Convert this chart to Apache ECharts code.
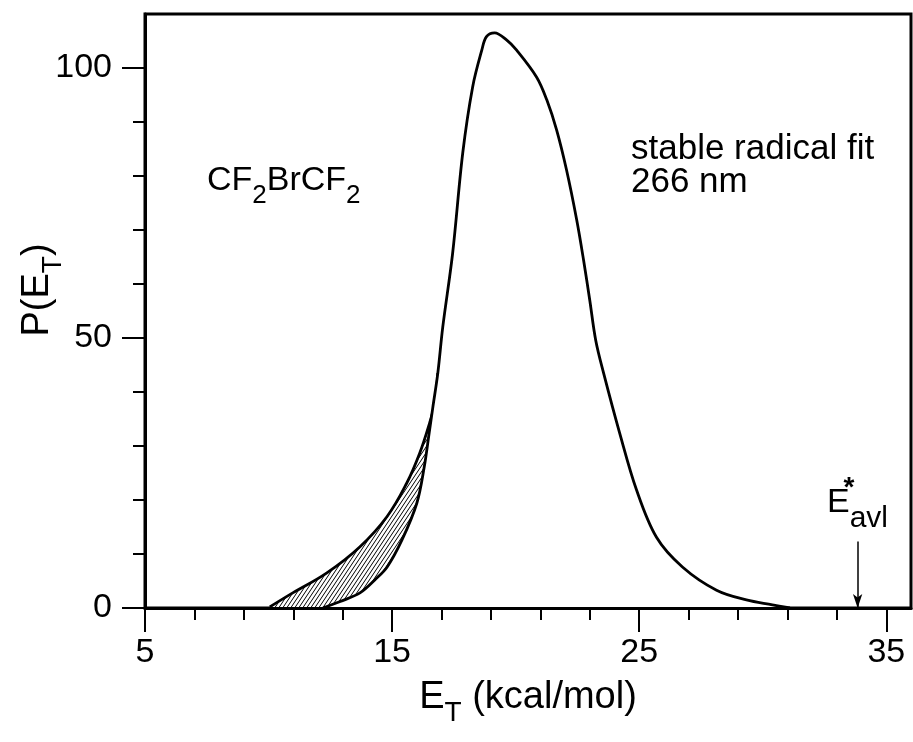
<!DOCTYPE html>
<html><head><meta charset="utf-8">
<script src="https://cdn.jsdelivr.net/npm/echarts@6/dist/echarts.min.js"></script>
<style>html,body{margin:0;padding:0;background:#fff}#chart{width:913px;height:742px}</style>
</head><body><div id="chart"></div>
<script>
// ---- data ----
const mainE = [12.2, 12.9, 13.7, 14.3, 14.8, 15.4, 16.0, 16.3, 16.5, 16.65, 16.85, 17.05, 17.45, 17.86, 18.26, 18.63, 18.82, 19.15, 19.63, 20.04, 20.85, 21.26, 21.66, 22.06, 22.47, 22.75, 23.0, 23.24, 23.56, 24.21, 24.89, 25.7, 26.75, 28.13, 29.34, 30.39, 31.1];
const mainP = [0, 1.2, 2.8, 5.2, 7.6, 12.6, 19.4, 26.1, 32.4, 37.2, 43.5, 52, 65.7, 84.3, 96.5, 103.3, 105.8, 106.5, 105.2, 103.3, 98.3, 94.1, 88.5, 81.1, 71.9, 64.4, 57.0, 49.6, 43.5, 32.4, 21.9, 13.1, 7.6, 3.3, 1.5, 0.6, 0];
const hatchE = [10.05, 10.98, 12.36, 13.69, 14.79, 15.59, 16.12, 16.52, 16.73, 16.85];
const hatchP = [0.2, 2.8, 6.5, 11.3, 16.9, 23.1, 28.7, 34.3, 38.0, 43.5];
const xMajorTicks = [5, 15, 25, 35];
const xMinorTicks = [7, 9, 11, 13, 17, 19, 21, 23, 27, 29, 31, 33];
const yMajorTicks = [0, 50, 100];
const yMinorTicks = [10, 20, 30, 40, 60, 70, 80, 90];
const eAvl = 33.84;
const eAvlArrowTop = 12.3;

const FONT = 'Liberation Sans';

function hatchPattern() {
  const c = document.createElement('canvas');
  c.width = 4; c.height = 6;
  const g = c.getContext('2d');
  g.fillStyle = '#fff'; g.fillRect(0, 0, 4, 6);
  g.strokeStyle = '#000'; g.lineWidth = 1;
  [-4, 0, 4].forEach(function (dx) {
    g.beginPath(); g.moveTo(-1 + dx, 7.5); g.lineTo(5 + dx, -1.5); g.stroke();
  });
  return c;
}

const zip = (a, b) => a.map((v, i) => [v, b[i]]);
const sub = function (fs, pad) { return { fontSize: fs, fontFamily: FONT, color: '#000', padding: [pad, 0, 0, 0] }; };
const main = function (fs) { return { fontSize: fs, fontFamily: FONT, color: '#000' }; };

const chart = echarts.init(document.getElementById('chart'), null, { renderer: 'canvas' });
chart.setOption({
  animation: false,
  backgroundColor: '#fff',
  grid: { left: 145, right: 2, top: 14, bottom: 134, show: true, borderColor: '#000', borderWidth: 3, backgroundColor: 'transparent', outerBoundsMode: 'none' },
  xAxis: [
    {
      type: 'value', min: 5, max: 36, position: 'bottom', z: 10,
      axisLine: { show: true, onZero: false, lineStyle: { color: '#000', width: 3 } },
      axisTick: { show: true, customValues: xMajorTicks, length: 24, lineStyle: { color: '#000', width: 2 } },
      axisLabel: { show: true, customValues: xMajorTicks, fontSize: 34, fontFamily: FONT, color: '#000', margin: 28 },
      splitLine: { show: false },
      name: '{m|E}{s|T}{m| (kcal/mol)}', nameLocation: 'middle', nameGap: 61,
      nameTextStyle: { rich: { m: main(38), s: sub(28, 30) } }
    },
    {
      type: 'value', min: 5, max: 36, position: 'bottom', offset: 0, z: 10,
      axisLine: { show: false },
      axisTick: { show: true, customValues: xMinorTicks, length: 12, lineStyle: { color: '#000', width: 2 } },
      axisLabel: { show: false },
      splitLine: { show: false }
    }
  ],
  yAxis: [
    {
      type: 'value', min: 0, max: 110, position: 'left', z: 10,
      axisLine: { show: true, onZero: false, lineStyle: { color: '#000', width: 3 } },
      axisTick: { show: true, customValues: yMajorTicks, length: 23, lineStyle: { color: '#000', width: 2 } },
      axisLabel: { show: true, customValues: yMajorTicks, fontSize: 34, fontFamily: FONT, color: '#000', margin: 33 },
      splitLine: { show: false }
    },
    {
      type: 'value', min: 0, max: 110, position: 'left', offset: 0, z: 10,
      axisLine: { show: false },
      axisTick: { show: true, customValues: yMinorTicks, length: 12, lineStyle: { color: '#000', width: 2 } },
      axisLabel: { show: false },
      splitLine: { show: false }
    }
  ],
  series: [
    {
      name: 'hatch', type: 'line', z: 2, smooth: 0.4, symbol: 'none',
      data: zip(hatchE, hatchP),
      lineStyle: { color: '#000', width: 2.8 },
      areaStyle: { color: { image: hatchPattern(), repeat: 'repeat' }, opacity: 1 }
    },
    {
      name: 'stable radical fit', type: 'line', z: 3, smooth: 0.35, symbol: 'none',
      data: zip(mainE, mainP),
      lineStyle: { color: '#000', width: 2.8 },
      areaStyle: { color: '#fff', opacity: 1 },
      markLine: {
        silent: true, animation: false,
        symbol: ['none', 'arrow'], symbolSize: [7, 14],
        lineStyle: { color: '#000', width: 1.5, type: 'solid' },
        label: { show: false },
        data: [[{ coord: [eAvl, eAvlArrowTop] }, { coord: [eAvl, 0] }]]
      }
    }
  ],
  graphic: [
    { type: 'text', x: 207, y: 181, style: { text: '{m|CF}{s|2}{m|BrCF}{s|2}', rich: { m: main(34), s: sub(26, 30) }, align: 'left', verticalAlign: 'middle' } },
    { type: 'text', x: 631, y: 149, style: { text: 'stable radical fit', fontSize: 35, fontFamily: FONT, fill: '#000', align: 'left', verticalAlign: 'middle' } },
    { type: 'text', x: 631, y: 182, style: { text: '266 nm', fontSize: 35, fontFamily: FONT, fill: '#000', align: 'left', verticalAlign: 'middle' } },
    { type: 'text', x: 38, y: 290, rotation: Math.PI / 2, style: { text: '{m|P(E}{s|T}{m|)}', rich: { m: main(38), s: sub(28, 30) }, align: 'center', verticalAlign: 'middle' } },
    { type: 'text', x: 827, y: 503, style: { text: '{m|E}{s|avl}', rich: { m: main(34), s: sub(30, 31) }, align: 'left', verticalAlign: 'middle' } },
    { type: 'text', x: 849, y: 488, style: { text: '*', fontSize: 28, fontWeight: 'bold', fontFamily: FONT, fill: '#000', align: 'center', verticalAlign: 'middle' } }
  ]
});
</script>
</body></html>
